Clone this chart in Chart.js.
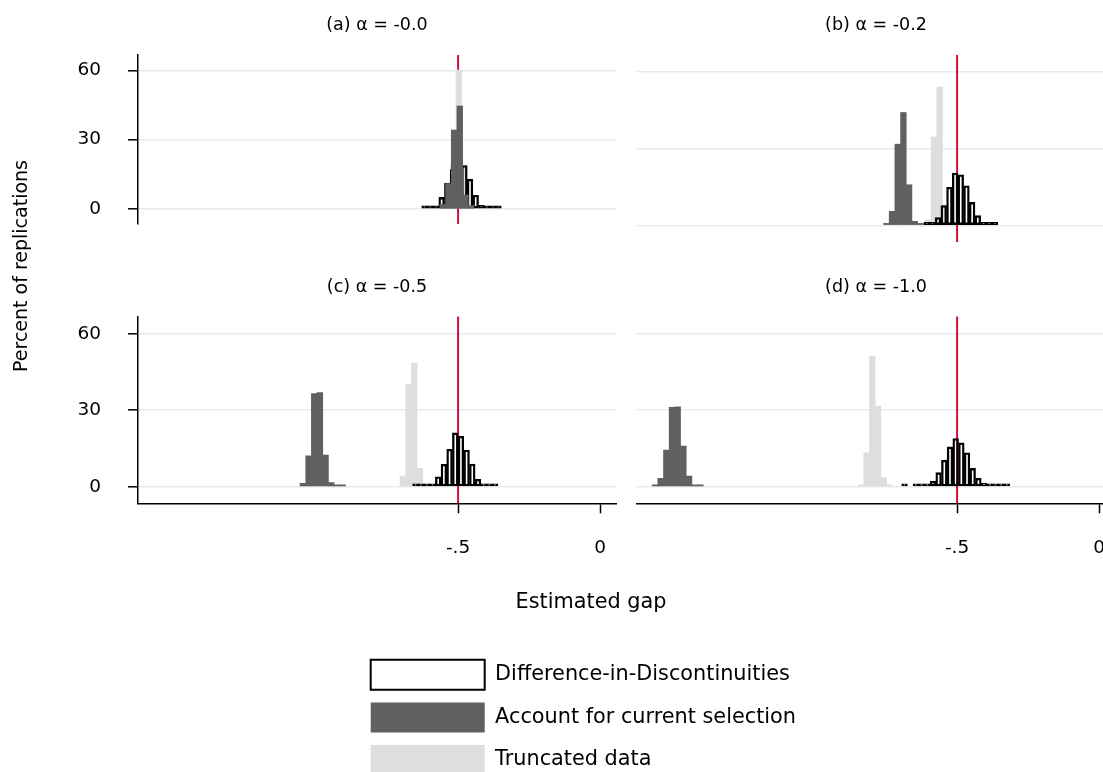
<!DOCTYPE html>
<html>
<head>
<meta charset="utf-8">
<script src="https://cdn.jsdelivr.net/npm/chart.js@4/dist/chart.umd.min.js"></script>
<style>
  html, body { margin: 0; padding: 0; background: #fff; overflow: hidden; }
  body { width: 1103px; height: 772px; position: relative; }
  canvas { position: absolute; }
</style>
</head>
<body>
<canvas id="frame" width="1200" height="772" style="left:0;top:0"></canvas>
<canvas id="panelA" width="640" height="262" style="left:0;top:0"></canvas>
<canvas id="panelB" width="520" height="262" style="left:620px;top:0"></canvas>
<canvas id="panelC" width="640" height="313" style="left:0;top:262px"></canvas>
<canvas id="panelD" width="520" height="313" style="left:620px;top:262px"></canvas>
<canvas id="legend" width="2000" height="160" style="left:358px;top:647px"></canvas>
<script>
// Simulated gap estimates, histograms by selection strength alpha

Chart.defaults.font.family = "DejaVu Sans";
Chart.defaults.color = "#000";
Chart.defaults.animation = false;
Chart.defaults.responsive = false;
Chart.defaults.plugins.legend.display = false;
Chart.defaults.plugins.tooltip.enabled = false;

const panelTitles = ["(a) α = -0.0", "(b) α = -0.2", "(c) α = -0.5", "(d) α = -1.0"];
const seriesNames = ["Difference-in-Discontinuities", "Account for current selection", "Truncated data"];
const xTitle = "Estimated gap";
const yTitle = "Percent of replications";

const xTicks = [-0.5, 0];
const xTickLabels = ["-.5", "0"];
const yTicks = [0, 30, 60];
const xLine = -0.5;
const binWidth = 0.02;

// (a) alpha = -0.0  (start = centre of first bin, values = percent)
const didStartA = -0.618;
const didA = [0.3, 0.3, 1.0, 5.0, 11.2, 17, 21, 18.8, 12.9, 5.9, 1.5, 0.5, 0.3, 0.3];
const accStartA = -0.554;
const accA = [2, 11, 34.2, 44.6, 6, 1.5];
const truncStartA = -0.5375;
const truncA = [0.5, 19, 60.2, 19, 1];

// (b) alpha = -0.2
const didStartB = -0.607;
const didB = [0.3, 0.5, 3.1, 7.8, 14.9, 20.5, 19.8, 15.5, 9.0, 3.8, 1.2, 0.5, 0.3];
const accStartB = -0.749;
const accB = [0.5, 5.5, 31.8, 44.2, 15.9, 1.6, 0.4];
const truncStartB = -0.6215;
const truncB = [0.4, 2.2, 34.6, 54.1, 8, 0.7];

// (c) alpha = -0.5
const didStartC = -0.65;
const didC = [0.3, 0.3, 0.3, 1.0, 3.9, 8.8, 14.7, 21.1, 19.8, 14.4, 8.9, 2.9, 1.0, 0.5, 0.3];
const accStartC = -1.0465;
const accC = [1.3, 12.1, 36.5, 36.9, 12.4, 1.6, 0.3, 0.3];
const truncStartC = -0.6944;
const truncC = [4.2, 40.2, 48.5, 7.2, 0.4, 0.3];

// (d) alpha = -1.0
const didStartD = -0.685;
const didD = [0.4, null, 0.3, 0.4, 0.8, 2.2, 5.5, 10.4, 15.6, 18.9, 17.2, 13.3, 7.2, 3.3, 1.3, 0.5, 0.3, 0.3, 0.3];
const accStartD = -1.5637;
const accD = [0.3, 3.3, 14.4, 31.1, 31.3, 15.9, 4.2, 0.3, 0.3];
const truncStartD = -0.8384;
const truncD = [0.3, 13.3, 51.1, 31.6, 3.5, 0.3];

const accFill = "#606060";
const truncFill = "#dedede";
const gridColor = "#e3ecee";
const lineColor = "#d0103a";

function bins(start, pct) {
    return pct.map((v, i) => ({ x: start + i * binWidth, y: v }));
}

// red reference line at the true gap, drawn under the bars
const xLinePlugin = {
    id: "xLine",
    beforeDatasetsDraw(chart) {
        const { ctx, chartArea, scales } = chart;
        const px = scales.x.getPixelForValue(xLine);
        ctx.save();
        ctx.strokeStyle = lineColor;
        ctx.lineWidth = 2;
        ctx.beginPath();
        ctx.moveTo(px, chartArea.top);
        ctx.lineTo(px, chartArea.bottom);
        ctx.stroke();
        ctx.restore();
    }
};

function xAxis(show) {
    const axis = {
        type: "linear",
        min: -1.627,
        max: 0.056,
        display: show,
        offset: false,
        afterBuildTicks: s => { s.ticks = xTicks.map(v => ({ value: v })); },
        grid: { offset: false, drawOnChartArea: false, tickLength: 10, tickColor: "#000", tickWidth: 1.5 },
        border: { display: true, color: "#000", width: 1.5 },
        ticks: { padding: 24, font: { size: 18.5 }, maxRotation: 0, callback: (v, i) => xTickLabels[i] }
    };
    if (show) axis.afterFit = s => { s.height = 71.7; };
    return axis;
}

function yAxis(show) {
    return {
        min: -6.5,
        max: 66.7,
        afterBuildTicks: s => { s.ticks = yTicks.map(v => ({ value: v })); },
        grid: { color: gridColor, lineWidth: 1.6, drawTicks: show, tickLength: 10, tickColor: "#000", tickWidth: 1.5 },
        border: { display: show, color: "#000", width: 1.5 },
        ticks: { display: show, padding: 27, font: { size: 18.5 } },
        afterFit: s => { s.width = show ? 138 : 0; }
    };
}

// each series sits on its own (hidden) x axis so its bins fill the full bin width
const barShape = { grouped: false, barPercentage: 1, categoryPercentage: 1 };

function panel(id, title, leftCol, bottomRow, did, didStart, acc, accStart, trunc, truncStart) {
    return new Chart(document.getElementById(id), {
        type: "bar",
        data: {
            datasets: [
                Object.assign({
                    label: seriesNames[1],
                    data: bins(accStart, acc),
                    xAxisID: "xAcc",
                    backgroundColor: accFill,
                    borderWidth: 0,
                    minBarLength: 2,
                    order: 1
                }, barShape),
                Object.assign({
                    label: seriesNames[0],
                    data: bins(didStart, did),
                    xAxisID: "x",
                    backgroundColor: "rgba(255,255,255,0)",
                    borderColor: "#000",
                    borderWidth: 1.7,
                    borderSkipped: false,
                    minBarLength: 3,
                    order: 2
                }, barShape),
                Object.assign({
                    label: seriesNames[2],
                    data: bins(truncStart, trunc),
                    xAxisID: "xTrunc",
                    backgroundColor: truncFill,
                    borderWidth: 0,
                    minBarLength: 2,
                    order: 3
                }, barShape)
            ]
        },
        options: {
            layout: {
                padding: { left: leftCol ? 0 : 17, right: leftCol ? 24 : 25, top: 0, bottom: bottomRow ? 0 : 20 }
            },
            plugins: {
                title: {
                    display: true,
                    text: title,
                    fullSize: false,
                    color: "#000",
                    font: { size: 17.5, weight: "normal" },
                    padding: { top: bottomRow ? 14.6 : 15, bottom: 19 }
                }
            },
            scales: {
                x: xAxis(bottomRow),
                xAcc: xAxis(false),
                xTrunc: xAxis(false),
                y: yAxis(leftCol)
            }
        },
        plugins: [xLinePlugin]
    });
}

panel("panelA", panelTitles[0], true, false, didA, didStartA, accA, accStartA, truncA, truncStartA);
panel("panelB", panelTitles[1], false, false, didB, didStartB, accB, accStartB, truncB, truncStartB);
panel("panelC", panelTitles[2], true, true, didC, didStartC, accC, accStartC, truncC, truncStartC);
panel("panelD", panelTitles[3], false, true, didD, didStartD, accD, accStartD, truncD, truncStartD);


// Shared axis titles

new Chart(document.getElementById("frame"), {
    type: "bar",
    data: { datasets: [] },
    options: {
        layout: { padding: { left: 0, top: 0, right: 58, bottom: 157.4 } },
        scales: {
            x: {
                type: "linear",
                position: "bottom",
                ticks: { display: false },
                grid: { display: false },
                border: { display: false },
                title: { display: true, text: xTitle, font: { size: 20.8 }, padding: 0 },
                afterFit: s => { s.height = 82.6; }
            },
            y: {
                position: "left",
                ticks: { display: false },
                grid: { display: false },
                border: { display: false },
                title: { display: true, text: yTitle, font: { size: 19 }, padding: { top: 11, bottom: 0 } },
                afterFit: s => { s.width = 40; }
            }
        }
    }
});


// Legend

new Chart(document.getElementById("legend"), {
    type: "bar",
    data: {
        labels: [],
        datasets: [
            { label: seriesNames[0], data: [], backgroundColor: "#fff", borderColor: "#000", borderWidth: 2 },
            { label: seriesNames[1], data: [], backgroundColor: accFill, borderColor: accFill, borderWidth: 0 },
            { label: seriesNames[2], data: [], backgroundColor: truncFill, borderColor: truncFill, borderWidth: 0 }
        ]
    },
    options: {
        scales: { x: { display: false }, y: { display: false } },
        plugins: {
            legend: {
                display: true,
                position: "left",
                align: "start",
                labels: { boxWidth: 114, boxHeight: 30, padding: 12.7, color: "#000", font: { size: 20.8 } }
            }
        }
    }
});
</script>
</body>
</html>
